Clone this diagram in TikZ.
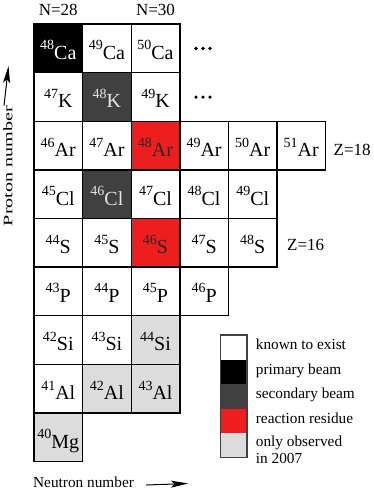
\documentclass[tikz,border=0pt]{standalone}
\usepackage{fontspec}
\setmainfont{Liberation Serif}
\usetikzlibrary{arrows.meta}
\definecolor{resred}{RGB}{238,30,30}
\definecolor{secgray}{RGB}{64,64,64}
\definecolor{newgray}{RGB}{220,220,220}
\newcommand\nuc[2]{\raisebox{9.5pt}{\fontsize{14}{14}\selectfont #1}{\fontsize{20}{20}\selectfont #2}}
\begin{document}
\begin{tikzpicture}[x=1pt,y=-1pt,
  cell/.style={draw=black, line width=1.4pt, minimum width=48.6pt, minimum height=48.6pt,
    inner sep=0pt, text height=22pt, text depth=0pt, fill=white, anchor=center},
  known/.style={cell},
  primary/.style={cell, fill=black, text=white},
  secondary/.style={cell, fill=secgray, text=white!90!black},
  residue/.style={cell, fill=resred, text=black!85},
  newobs/.style={cell, fill=newgray},
  biglab/.style={inner sep=0pt, font=\fontsize{17}{17}\selectfont},
  leglab/.style={inner sep=0pt, anchor=mid west, font=\fontsize{15.3}{15.3}\selectfont},
  legseg/.style={inner sep=0pt, minimum width=26pt, minimum height=24.5pt},
  arr/.style={line width=1pt, -{Stealth[length=17pt, width=7pt, inset=3.5pt]}}
]
\useasboundingbox (0,0) rectangle (374,491);

\foreach \c/\r/\A/\E/\s in {
  0/0/48/Ca/primary, 1/0/49/Ca/known, 2/0/50/Ca/known,
  0/1/47/K/known, 1/1/48/K/secondary, 2/1/49/K/known,
  0/2/46/Ar/known, 1/2/47/Ar/known, 2/2/48/Ar/residue, 3/2/49/Ar/known, 4/2/50/Ar/known, 5/2/51/Ar/known,
  0/3/45/Cl/known, 1/3/46/Cl/secondary, 2/3/47/Cl/known, 3/3/48/Cl/known, 4/3/49/Cl/known,
  0/4/44/S/known, 1/4/45/S/known, 2/4/46/S/residue, 3/4/47/S/known, 4/4/48/S/known,
  0/5/43/P/known, 1/5/44/P/known, 2/5/45/P/known, 3/5/46/P/known,
  0/6/42/Si/known, 1/6/43/Si/known, 2/6/44/Si/newobs,
  0/7/41/Al/known, 1/7/42/Al/newobs, 2/7/43/Al/newobs,
  0/8/40/Mg/newobs}
  \node[\s] (n\A\E) at ({34+48.6*(\c+0.5)},{24+48.6*(\r+0.5)}) {\nuc{\A}{\E}};

% continuation dots
\foreach \r in {0,1}
  \foreach \dx in {-7,0,7}
    \fill ({203+\dx},{48.5+48.6*\r}) circle (1.8pt);

% magic number labels
\node[biglab, anchor=base] (N28) at (58.3,15) {N=28};
\node[biglab, anchor=base] (N30) at (155.5,15) {N=30};
\node[biglab, anchor=base west] (Z18) at (333.5,155) {Z=18};
\node[biglab, anchor=base west] (Z16) at (287,250) {Z=16};

% axes
\node[inner sep=0pt, rotate=90, font=\fontsize{13}{13}\selectfont] (pn) at (8,166) {\scalebox{1.55}[1]{Proton number}};
\coordinate (ptip) at (8.5,66);
\draw[arr] ([xshift=-4pt]pn.east) -- (ptip);

\node[inner sep=0pt, anchor=base west, font=\fontsize{15.3}{15.3}\selectfont] (nn) at (33,487.3) {Neutron number};
\coordinate (ntip) at (188,483.5);
\draw[arr] ([xshift=12pt]nn.mid east) -- (ntip);

% legend
\node[legseg, fill=white]     (l1) at (233.7,347.3) {};
\node[legseg, fill=black]     (l2) at (233.7,371.8) {};
\node[legseg, fill=secgray]   (l3) at (233.7,396.3) {};
\node[legseg, fill=resred]    (l4) at (233.7,420.8) {};
\node[legseg, fill=newgray]   (l5) at (233.7,445.3) {};
\draw[line width=1.3pt, draw=black!75] (l1.north west) rectangle (l5.south east);
\node[leglab] (t1) at (255.7,347.3) {known to exist};
\node[leglab] (t2) at (255.7,371.8) {primary beam};
\node[leglab] (t3) at (255.7,396.3) {secondary beam};
\node[leglab] (t4) at (255.7,420.8) {reaction residue};
\node[leglab] (t5) at (255.7,444.5) {only observed};
\node[leglab] (t6) at (255.7,461) {in 2007};
\end{tikzpicture}
\end{document}
